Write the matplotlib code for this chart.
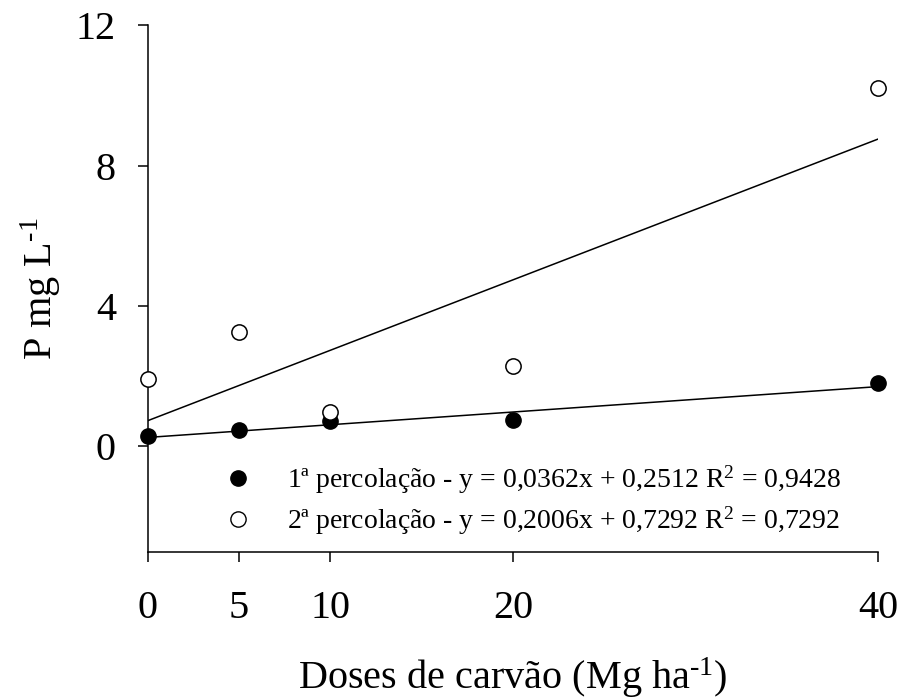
import matplotlib
matplotlib.use("Agg")
import matplotlib.pyplot as plt
import numpy as np
from matplotlib.lines import Line2D

plt.rcParams['font.family'] = ['Liberation Serif', 'DejaVu Serif']
plt.rcParams['mathtext.fontset'] = 'custom'
plt.rcParams['mathtext.rm'] = 'Liberation Serif'
plt.rcParams['mathtext.it'] = 'Liberation Serif:italic'

# data
doses = [0, 5, 10, 20, 40]
perc1 = [0.28, 0.47, 0.71, 0.74, 1.80]
perc2 = [1.91, 3.25, 0.99, 2.28, 10.20]
slope = [0.0362, 0.2006]
intercept = [0.2512, 0.7292]
labels = ['1ª percolação - y = 0,0362x + 0,2512 R$^2$ = 0,9428',
          '2ª percolação - y = 0,2006x + 0,7292 R$^2$ = 0,7292']

fig = plt.figure(figsize=(9.07, 6.99), dpi=100)
ax = fig.add_axes([0.163, 0.211, 0.805, 0.753])

# regression lines
xs = np.array([0, 40])
for s, b in zip(slope, intercept):
    ax.plot(xs, s * xs + b, color='black', linewidth=1.1, zorder=2)

ax.plot(doses, perc1, 'o', color='black', markersize=11, zorder=3, clip_on=False)
ax.plot(doses, perc2, 'o', markerfacecolor='white', markeredgecolor='black',
        markeredgewidth=1.1, markersize=11, zorder=3, clip_on=False)

ax.set_xlim(0, 40)
ax.set_ylim(-3, 12)
ax.set_xticks(doses)
ax.set_yticks([0, 4, 8, 12])
ax.spines['top'].set_visible(False)
ax.spines['right'].set_visible(False)
for sp in ['left', 'bottom']:
    ax.spines[sp].set_linewidth(1.1)
ax.tick_params(axis='x', direction='out', length=7, width=1.1, labelsize=29, pad=21)
ax.tick_params(axis='y', direction='out', length=7, width=1.1, labelsize=29, pad=16)

ax.set_xlabel('Doses de carvão (Mg ha$^{\\text{-1}}$)', fontsize=29, labelpad=20)
ax.set_ylabel('P mg L$^{\\text{-1}}$', fontsize=29, labelpad=9)

handles = [
    Line2D([], [], marker='o', linestyle='none', color='black', markersize=11),
    Line2D([], [], marker='o', linestyle='none', markerfacecolor='white',
           markeredgecolor='black', markersize=11),
]
ax.legend(handles, labels, loc='lower left', bbox_to_anchor=(0.061, -0.02),
          frameon=False, fontsize=20, handletextpad=1.0, labelspacing=0.3,
          handlelength=1.5)

fig.savefig('out.png', dpi=100)
